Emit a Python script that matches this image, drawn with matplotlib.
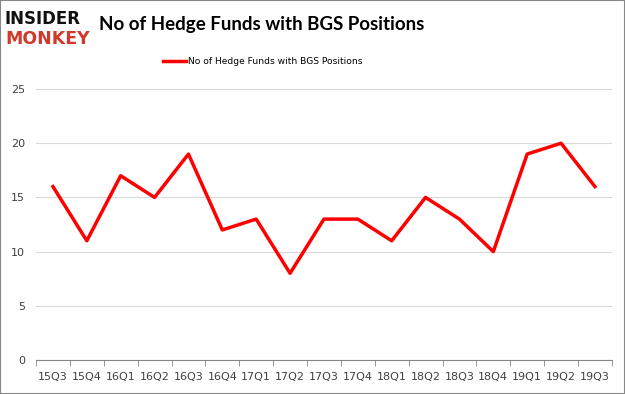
import matplotlib.pyplot as plt
from matplotlib.patches import Rectangle

quarters = ['15Q3', '15Q4', '16Q1', '16Q2', '16Q3', '16Q4', '17Q1', '17Q2', '17Q3',
            '17Q4', '18Q1', '18Q2', '18Q3', '18Q4', '19Q1', '19Q2', '19Q3']
funds = [16, 11, 17, 15, 19, 12, 13, 8, 13, 13, 11, 15, 13, 10, 19, 20, 16]
series_name = 'No of Hedge Funds with BGS Positions'

fig = plt.figure(figsize=(6.25, 3.94), dpi=100)
ax = fig.add_axes([0.0576, 0.0863, 0.9214, 0.6877])

x = range(len(quarters))
ax.plot(x, funds, color='#ff0000', linewidth=2.5, label=series_name)

ax.set_xlim(-0.5, len(quarters) - 0.5)
ax.set_ylim(0, 25)
ax.set_yticks(range(0, 26, 5))
ax.set_xticks(list(x))
ax.set_xticklabels(quarters)
ax.grid(axis='y', color='#d9d9d9', linewidth=0.8)
ax.set_axisbelow(True)
for s in ['top', 'right', 'left']:
    ax.spines[s].set_visible(False)
ax.spines['bottom'].set_color('#868686')
ax.tick_params(axis='y', length=0, labelsize=8, colors='#404040', pad=8)
ax.tick_params(axis='x', labelsize=8, colors='#404040', pad=9)
# ticks between categories, Excel style
ax.set_xticks([i - 0.5 for i in range(len(quarters) + 1)], minor=True)
ax.tick_params(axis='x', which='minor', length=4, color='#868686')
ax.tick_params(axis='x', which='major', length=0)

fig.legend(loc='center', bbox_to_anchor=(0.42, 0.843), frameon=False,
           fontsize=6.6, handlelength=2.6, handletextpad=0.15)

fig.text(0.418, 0.937, 'No of Hedge Funds with BGS Positions', ha='center', va='center',
         fontsize=13.5, fontweight='bold', color='#000000', family='Lato')
fig.text(0.008, 0.952, 'INSIDER', ha='left', va='center', fontsize=12,
         fontweight='heavy', color='#111111', family='DejaVu Sans')
fig.text(0.008, 0.9, 'MONKEY', ha='left', va='center', fontsize=12.5,
         fontweight='heavy', color='#d0392b', family='DejaVu Sans')

fig.patches.append(Rectangle((0, 0), 1, 1, transform=fig.transFigure, fill=False,
                             edgecolor='#888888', linewidth=1.5))

fig.savefig('out.png', dpi=100)
